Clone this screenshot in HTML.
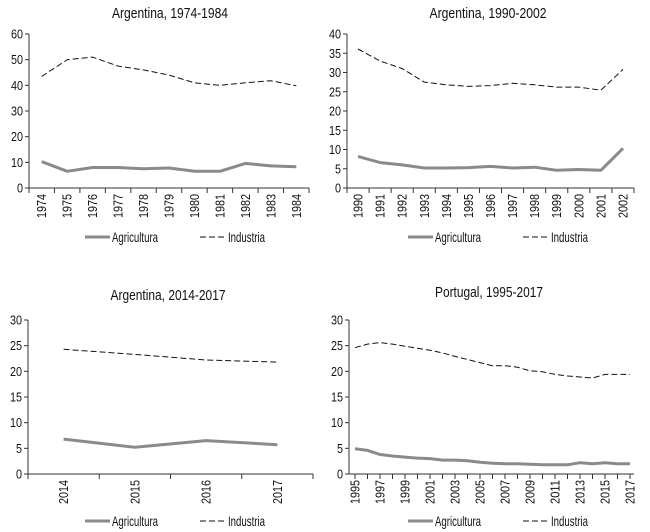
<!DOCTYPE html>
<html><head><meta charset="utf-8"><style>
html,body{margin:0;padding:0;background:#fff}
svg{display:block;font-family:"Liberation Sans Narrow","Liberation Sans",sans-serif}
</style></head><body>
<svg id="c" width="650" height="532" viewBox="0 0 650 532" xmlns="http://www.w3.org/2000/svg"></svg>
<script>
const p1Years=["1974","1975","1976","1977","1978","1979","1980","1981","1982","1983","1984"];
const p1Agri=[10.3,6.5,8,8,7.5,7.8,6.5,6.5,9.6,8.6,8.3];
const p1Ind=[43.5,50,51,47.5,46,44,41,40,41,41.8,39.8];
const p1Ticks=[0,10,20,30,40,50,60];
const p2Years=["1990","1991","1992","1993","1994","1995","1996","1997","1998","1999","2000","2001","2002"];
const p2Agri=[8.2,6.6,6,5.2,5.2,5.3,5.6,5.2,5.4,4.6,4.8,4.6,10.3];
const p2Ind=[36.1,33,31,27.5,26.8,26.4,26.6,27.2,26.8,26.2,26.2,25.4,30.8];
const p2Ticks=[0,5,10,15,20,25,30,35,40];
const p3Years=["2014","2015","2016","2017"];
const p3Agri=[6.8,5.2,6.5,5.7];
const p3Ind=[24.3,23.3,22.2,21.8];
const p3Ticks=[0,5,10,15,20,25,30];
const p4Years=["1995","1996","1997","1998","1999","2000","2001","2002","2003","2004","2005","2006","2007","2008","2009","2010","2011","2012","2013","2014","2015","2016","2017"];
const p4Agri=[4.9,4.6,3.8,3.5,3.3,3.1,3.0,2.7,2.7,2.6,2.3,2.1,2.0,2.0,1.9,1.8,1.8,1.8,2.2,2.0,2.2,2.0,2.0];
const p4Ind=[24.6,25.3,25.6,25.3,24.9,24.5,24.1,23.6,22.9,22.3,21.7,21.1,21.1,20.8,20.1,19.9,19.4,19.1,18.9,18.7,19.4,19.4,19.4];
const p4Ticks=[0,5,10,15,20,25,30];

const svg=document.getElementById('c');
const NS="http://www.w3.org/2000/svg";
function mk(tag,attrs,parent,text){const e=document.createElementNS(NS,tag);for(const k in attrs)e.setAttribute(k,attrs[k]);if(text!==undefined)e.textContent=text;parent.appendChild(e);return e;}

function panel(o){
  const g=mk('g',{},svg);
  
  
  const max=o.ticks[o.ticks.length-1];
  const ys=v=>o.y0-(v/max)*(o.y0-o.yTop);
  const n=o.cats.length;
  let xs;
  if(o.between){const w=(o.xR-o.xL)/n;xs=i=>o.xL+w*(i+0.5);}
  else{xs=i=>o.xF+(o.xLast-o.xF)*i/(n-1);}
  const t=mk('text',{x:o.tx,y:o.ty,'text-anchor':'middle','font-size':15,fill:'#111',textLength:o.tw,lengthAdjust:'spacingAndGlyphs'},g,o.title);
  
  
  mk('line',{x1:o.xL,y1:o.yTop,x2:o.xL,y2:o.y0,stroke:'#333','stroke-width':1},g);
  mk('line',{x1:o.xL,y1:o.y0,x2:o.xR,y2:o.y0,stroke:'#333','stroke-width':1},g);
  o.ticks.forEach(v=>{
    const y=ys(v);
    mk('line',{x1:o.xL-4,y1:y,x2:o.xL,y2:y,stroke:'#333'},g);
    const s=String(v);
    const l=mk('text',{x:o.xL-6,y:y+4.5,'text-anchor':'end','font-size':13,fill:'#111',textLength:s.length*6,lengthAdjust:'spacingAndGlyphs'},g,s);
    
    
  });
  if(o.between){
    const w=(o.xR-o.xL)/n;
    for(let i=0;i<=n;i++){const x=o.xL+w*i;mk('line',{x1:x,y1:o.y0,x2:x,y2:o.y0+5,stroke:'#333'},g);}
  } else {
    for(let i=0;i<n;i++){const x=xs(i);mk('line',{x1:x,y1:o.y0,x2:x,y2:o.y0+5,stroke:'#333'},g);}
  }
  o.cats.forEach((c,i)=>{
    if(i%o.every!==0)return;
    const x=xs(i)+4.5,y=o.y0+6;
    const l=mk('text',{x:x,y:y,'text-anchor':'end','font-size':13,fill:'#111',textLength:24,lengthAdjust:'spacingAndGlyphs',transform:`rotate(-90 ${x} ${y})`},g,c);
    
    
  });
  const pa=o.agri.map((v,i)=>`${xs(i).toFixed(1)},${ys(v).toFixed(1)}`).join(' ');
  const la=mk('polyline',{points:pa,fill:'none',stroke:'#8a8a8a','stroke-width':3,'stroke-linejoin':'round'},g);
  
  
  const pi=o.ind.map((v,i)=>`${xs(i).toFixed(1)},${ys(v).toFixed(1)}`).join(' ');
  const li=mk('polyline',{points:pi,fill:'none',stroke:'#111','stroke-width':1,'stroke-dasharray':'6,3'},g);
  
  
  const lg=mk('g',{},g);
  
  
  mk('line',{x1:o.lx,y1:o.ly,x2:o.lx+25,y2:o.ly,stroke:'#8a8a8a','stroke-width':3},lg);
  const a=mk('text',{x:o.lx+27,y:o.ly+5,'font-size':14,fill:'#111',textLength:46,lengthAdjust:'spacingAndGlyphs'},lg,'Agricultura');
  
  
  mk('line',{x1:o.lx+115,y1:o.ly,x2:o.lx+140,y2:o.ly,stroke:'#111','stroke-dasharray':'6,3'},lg);
  const b=mk('text',{x:o.lx+143,y:o.ly+5,'font-size':14,fill:'#111',textLength:37,lengthAdjust:'spacingAndGlyphs'},lg,'Industria');
  
  
}

panel({name:'panel-argentina-1974-1984',title:'Argentina, 1974-1984',tw:116,tx:170,ty:18,xL:29,xR:309,yTop:34,y0:188,between:true,cats:p1Years,agri:p1Agri,ind:p1Ind,ticks:p1Ticks,every:1,lx:85,ly:237});
panel({name:'panel-argentina-1990-2002',title:'Argentina, 1990-2002',tw:117,tx:488,ty:18,xL:347,xR:634,yTop:34,y0:188,between:true,cats:p2Years,agri:p2Agri,ind:p2Ind,ticks:p2Ticks,every:1,lx:408,ly:237});
panel({name:'panel-argentina-2014-2017',title:'Argentina, 2014-2017',tw:115,tx:168,ty:300,xL:28,xR:313,yTop:320,y0:474,between:true,cats:p3Years,agri:p3Agri,ind:p3Ind,ticks:p3Ticks,every:1,lx:85,ly:521});
panel({name:'panel-portugal-1995-2017',title:'Portugal, 1995-2017',tw:108,tx:489,ty:297,xL:349,xR:634,xF:355,xLast:630,yTop:320,y0:474,between:false,cats:p4Years,agri:p4Agri,ind:p4Ind,ticks:p4Ticks,every:2,lx:408,ly:521});
</script>
</body></html>
